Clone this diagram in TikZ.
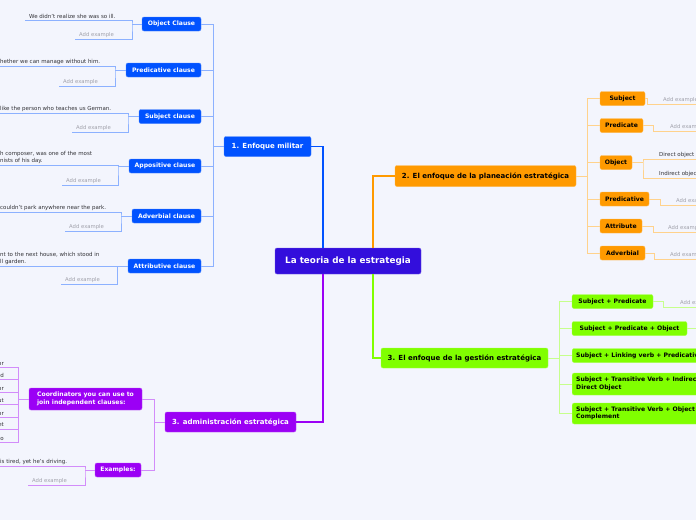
\documentclass[tikz,border=0pt]{standalone}
\usepackage{fontspec}
\setmainfont{DejaVu Sans}
\usetikzlibrary{positioning}
\definecolor{bgcol}{RGB}{243,245,253}
\definecolor{rootcol}{RGB}{51,14,220}
\definecolor{milblue}{RGB}{0,82,255}
\definecolor{planorange}{RGB}{255,154,0}
\definecolor{gestgreen}{RGB}{128,255,0}
\definecolor{admpurple}{RGB}{155,0,245}
\definecolor{extext}{RGB}{50,50,55}
\definecolor{addgray}{RGB}{160,160,170}
\tikzset{
    box/.style={rounded corners=2pt, fill=#1, draw=#1!70!white, line width=0.4pt,
        font=\bfseries\fontsize{6.1}{7.4}\selectfont, inner sep=1pt, minimum height=14pt, align=left},
    mainbox/.style={box=#1, font=\bfseries\fontsize{7}{8.4}\selectfont, minimum height=20pt},
    link/.style={draw=#1, line width=1.2pt},
    sublink/.style={draw=#1!45!white, line width=0.8pt},
    extxt/.style={font=\fontsize{5.5}{7}\selectfont, text=extext, inner xsep=4pt, inner ysep=1.5pt,
        anchor=south west, align=left},
    addtxt/.style={extxt, font=\fontsize{5.3}{7}\selectfont, text=addgray}
}

\begin{document}
\begin{tikzpicture}[x=1pt, y=-1pt]
    \useasboundingbox (0,0) rectangle (696,520);
    \fill[bgcol] (0,0) rectangle (696,520);

    % central topic and main branches
    \node[box=rootcol, text=white, font=\bfseries\fontsize{8.8}{10}\selectfont, minimum width=146pt, minimum height=26pt] (root) at (348,261) {La teoria de la estrategia};
    \node[mainbox=milblue, text=white, minimum width=87pt] (mil) at (267.5,146.5) {1. Enfoque militar};
    \node[mainbox=planorange, minimum width=181pt, minimum height=21pt] (plan) at (485.5,176) {2. El enfoque de la planeación estratégica};
    \node[mainbox=gestgreen, minimum width=167pt] (gest) at (464.5,358) {3. El enfoque de la gestión estratégica};
    \node[mainbox=admpurple, text=white, minimum width=131pt] (adm) at (230.5,422) {3. administración estratégica};

    \coordinate (cl) at (323,0);
    \coordinate (cr) at (373,0);
    \draw[link=milblue] (mil.east) -| (root.north -| cl);
    \draw[link=planorange] (plan.west) -| (root.north -| cr);
    \draw[link=gestgreen] (gest.west) -| (root.south -| cr);
    \draw[link=admpurple] (adm.east) -| (root.south -| cl);

    % 1. Enfoque militar
    \node[box=milblue, text=white, minimum width=59pt] (objc) at (171.5,24) {Object Clause};
    \node[box=milblue, text=white, minimum width=75pt] (predc) at (163.5,70) {Predicative clause};
    \node[box=milblue, text=white, minimum width=62pt] (subjc) at (170,116.5) {Subject clause};
    \node[box=milblue, text=white, minimum width=72pt] (appc) at (165,166) {Appositive clause};
    \node[box=milblue, text=white, minimum width=69pt] (advc) at (166.5,216) {Adverbial clause};
    \node[box=milblue, text=white, minimum width=73pt] (attc) at (164.5,266) {Attributive clause};

    \coordinate (mv) at (213,146.5);
    \draw[sublink=milblue] (mil.west) -- (mv);
    \foreach \n in {objc,predc,subjc,appc,advc,attc}
        \draw[sublink=milblue] (mv) |- (\n.east);

    \node[extxt] (o1) at (25,20) {We didn’t realize she was so ill.};
    \node[addtxt] (o2) at (75,39) {Add example};
    \node[extxt] (p1) at (-4,66) {hether we can manage without him.};
    \node[addtxt] (p2) at (59,86) {Add example};
    \node[extxt] (s1) at (-4,113) {like the person who teaches us German.};
    \node[addtxt] (s2) at (72,132) {Add example};
    \node[extxt] (a1) at (-4,165) {h composer, was one of the most\\nists of his day.};
    \node[addtxt] (a2) at (62,185) {Add example};
    \node[extxt] (v1) at (-4,212) {couldn’t park anywhere near the park.};
    \node[addtxt] (v2) at (65,231) {Add example};
    \node[extxt] (t1) at (-4,266) {nt to the next house, which stood in\\ll garden.};
    \node[addtxt] (t2) at (61,284) {Add example};

    \coordinate (ob) at (132,24);
    \coordinate (pb) at (115,70);
    \coordinate (sb) at (128,116.5);
    \coordinate (ab) at (118,166);
    \coordinate (vb) at (121,216);
    \coordinate (tb) at (117,266);
    \draw[sublink=milblue] (objc.west) -- (ob) (o1.south west) -| (ob) |- (o2.south west);
    \draw[sublink=milblue] (predc.west) -- (pb) (p1.south west) -| (pb) |- (p2.south west);
    \draw[sublink=milblue] (subjc.west) -- (sb) (s1.south west) -| (sb) |- (s2.south west);
    \draw[sublink=milblue] (appc.west) -- (ab) (a1.south west) -| (ab) |- (a2.south west);
    \draw[sublink=milblue] (advc.west) -- (vb) (v1.south west) -| (vb) |- (v2.south west);
    \draw[sublink=milblue] (attc.west) -- (tb) (t1.south west) -| (tb) |- (t2.south west);

    % 2. planeacion
    \node[box=planorange, minimum width=45pt] (psub) at (622.5,98.5) {Subject};
    \node[box=planorange, minimum width=43pt] (ppred) at (621.5,125.5) {Predicate};
    \node[box=planorange, minimum width=32pt] (pobj) at (616,162.5) {Object};
    \node[box=planorange, minimum width=49pt] (ppv) at (624.5,199) {Predicative};
    \node[box=planorange, minimum width=42pt] (pattr) at (621,226) {Attribute};
    \node[box=planorange, minimum width=45pt] (padv) at (622.5,253) {Adverbial};

    \coordinate (pv) at (587,176);
    \draw[sublink=planorange] (plan.east) -- (pv);
    \foreach \n in {psub,ppred,pobj,ppv,pattr,padv}
        \draw[sublink=planorange] (pv) |- (\n.west);

    \node[addtxt] (pa1) at (659,104) {Add example};
    \node[addtxt] (pa2) at (666,131) {Add example};
    \node[extxt] (pd1) at (655,159) {Direct object};
    \node[extxt] (pd2) at (655,178) {Indirect object};
    \node[addtxt] (pa4) at (672,205) {Add example};
    \node[addtxt] (pa5) at (664,232) {Add example};
    \node[addtxt] (pa6) at (666,259) {Add example};

    \coordinate (qb1) at (647,98.5);
    \coordinate (qb2) at (653,125.5);
    \coordinate (qb3) at (643,162.5);
    \coordinate (qb4) at (660,199);
    \coordinate (qb5) at (653,226);
    \coordinate (qb6) at (654,253);
    \draw[sublink=planorange] (psub.east) -- (qb1) |- (pa1.south east);
    \draw[sublink=planorange] (ppred.east) -- (qb2) |- (pa2.south east);
    \draw[sublink=planorange] (pobj.east) -- (qb3) (pd1.south east) -| (qb3) |- (pd2.south east);
    \draw[sublink=planorange] (ppv.east) -- (qb4) |- (pa4.south east);
    \draw[sublink=planorange] (pattr.east) -- (qb5) |- (pa5.south east);
    \draw[sublink=planorange] (padv.east) -- (qb6) |- (pa6.south east);

    % 3. gestion
    \node[box=gestgreen, minimum width=81pt] (g1) at (612.5,301.5) {Subject + Predicate};
    \node[box=gestgreen, minimum width=115pt] (g2) at (629.5,328.5) {Subject + Predicate + Object};
    \node[box=gestgreen, anchor=west, inner xsep=4pt] (g3) at (572,355.5) {Subject + Linking verb + Predicative};
    \node[box=gestgreen, anchor=west, inner xsep=4pt, minimum height=22pt] (g4) at (572,384) {Subject + Transitive Verb + Indirect Object +\\Direct Object};
    \node[box=gestgreen, anchor=west, inner xsep=4pt, minimum height=21pt] (g5) at (572,413.5) {Subject + Transitive Verb + Object +\\Complement};

    \coordinate (gv) at (559,358);
    \draw[sublink=gestgreen] (gest.east) -- (gv);
    \foreach \n in {g1,g2,g3,g4,g5}
        \draw[sublink=gestgreen] (gv) |- (\n.west);

    \node[addtxt] (ga1) at (676,307) {Add example};
    \coordinate (gb1) at (663,301.5);
    \coordinate (g2e) at (700,328.5);
    \draw[sublink=gestgreen] (g1.east) -- (gb1) |- (ga1.south east);
    \draw[sublink=gestgreen] (g2.east) -- (g2e);

    % 3. administracion
    \node[box=admpurple, text=white, minimum width=113pt, minimum height=22pt] (coord) at (85.5,399) {Coordinators you can use to\\join independent clauses:};
    \node[box=admpurple, text=white, minimum width=46pt] (exa) at (118,470) {Examples:};

    \coordinate (av) at (154,422);
    \draw[sublink=admpurple] (adm.west) -- (av);
    \foreach \n in {coord,exa}
        \draw[sublink=admpurple] (av) |- (\n.east);

    \foreach \w [count=\i] in {for,and,nor,but,or,yet,so}
        \node[extxt, anchor=south east, inner xsep=1pt] (w\i) at (5,{354.5+12.5*\i}) {\w};
    \coordinate (cb) at (18,399);
    \draw[sublink=admpurple] (coord.west) -- (cb);
    \foreach \i in {1,...,7}
        \draw[sublink=admpurple] (cb) |- (w\i.south west);

    \node[extxt] (e1) at (-4,466) {is tired, yet he’s driving.};
    \node[addtxt] (e2) at (28,485) {Add example};
    \coordinate (eb) at (85,470);
    \draw[sublink=admpurple] (exa.west) -- (eb) (e1.south west) -| (eb) |- (e2.south west);
\end{tikzpicture}
\end{document}
